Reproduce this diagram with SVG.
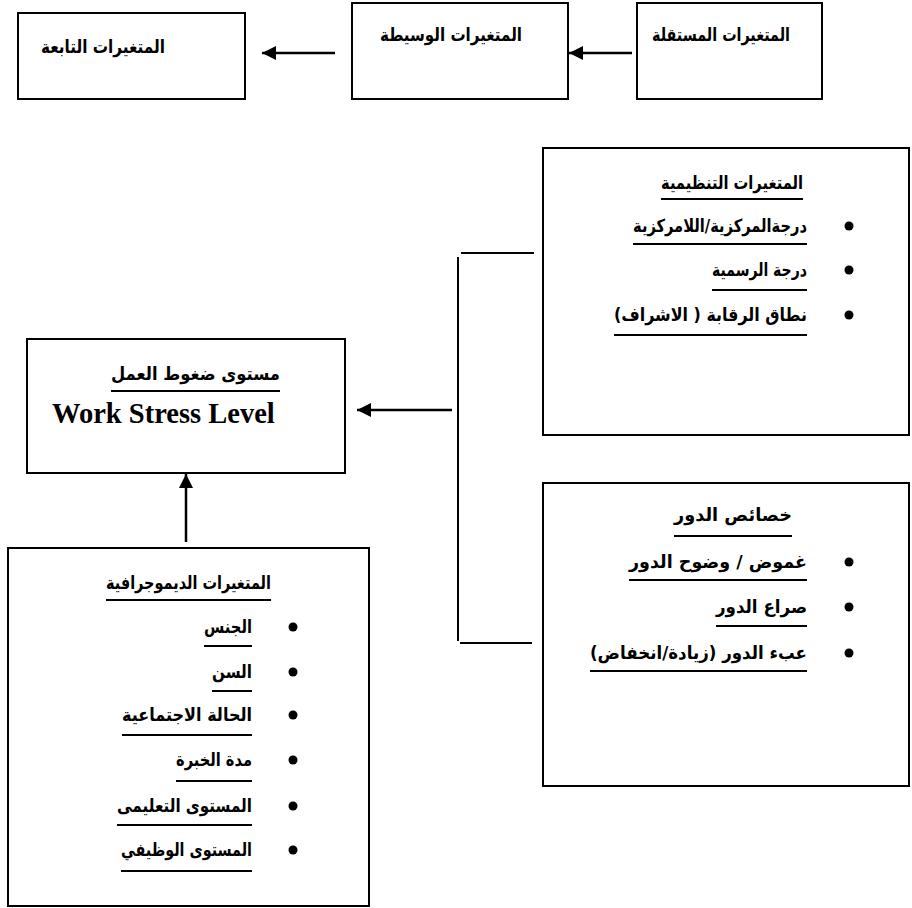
<svg xmlns="http://www.w3.org/2000/svg" width="912" height="908" viewBox="0 0 912 908">
<style>
.box{fill:#fff;stroke:#000;stroke-width:2}
.ar{font-family:"DejaVu Sans",sans-serif;font-weight:bold;font-size:18px;fill:#000;direction:rtl;unicode-bidi:embed;text-anchor:middle}
.en{font-family:"Liberation Serif",serif;font-weight:bold;font-size:28.5px;fill:#000}
.u{stroke:#000;stroke-width:2}
.ln{stroke:#000;stroke-width:2.5;fill:none}
.br{stroke:#000;stroke-width:2;fill:none}
.dot{fill:#000}
</style>
<defs>
<marker id="ah" markerUnits="userSpaceOnUse" markerWidth="15" markerHeight="15" refX="14" refY="7" orient="auto">
<path d="M0,0 L14,7 L0,14 z" fill="#000"/>
</marker>
</defs>

<g id="dependent">
<rect class="box" x="18" y="13" width="227" height="86"/>
<text class="ar" x="103" y="53" textLength="124" lengthAdjust="spacingAndGlyphs">المتغيرات التابعة</text>
</g>
<g id="mediating">
<rect class="box" x="352" y="3" width="216" height="96"/>
<text class="ar" x="451" y="41" textLength="142" lengthAdjust="spacingAndGlyphs">المتغيرات الوسيطة</text>
</g>
<g id="independent">
<rect class="box" x="637" y="3" width="185" height="96"/>
<text class="ar" x="721" y="41" textLength="138" lengthAdjust="spacingAndGlyphs">المتغيرات المستقلة</text>
</g>

<g id="organizational">
<rect class="box" x="543" y="148" width="366" height="287"/>
<text class="ar" x="732" y="189" textLength="142" lengthAdjust="spacingAndGlyphs">المتغيرات التنظيمية</text>
<line class="u" x1="661" y1="199" x2="803" y2="199"/>
<circle class="dot" cx="849" cy="226" r="4.5"/>
<text class="ar" x="720" y="232" textLength="174" lengthAdjust="spacingAndGlyphs">درجةالمركزية/اللامركزية</text>
<line class="u" x1="633" y1="244" x2="807" y2="244"/>
<circle class="dot" cx="849" cy="270" r="4.5"/>
<text class="ar" x="759.5" y="276" textLength="95" lengthAdjust="spacingAndGlyphs">درجة الرسمية</text>
<line class="u" x1="712" y1="290" x2="807" y2="290"/>
<circle class="dot" cx="849" cy="315" r="4.5"/>
<text class="ar" x="710.5" y="321" textLength="193" lengthAdjust="spacingAndGlyphs">نطاق الرقابة ( الاشراف)</text>
<line class="u" x1="614" y1="335" x2="807" y2="335"/>
</g>

<g id="role">
<rect class="box" x="543" y="483" width="366" height="303"/>
<text class="ar" x="733" y="521" textLength="118" lengthAdjust="spacingAndGlyphs">خصائص الدور</text>
<line class="u" x1="674" y1="536" x2="792" y2="536"/>
<circle class="dot" cx="849" cy="562" r="4.5"/>
<text class="ar" x="718" y="568" textLength="178" lengthAdjust="spacingAndGlyphs">غموض / وضوح الدور</text>
<line class="u" x1="629" y1="580" x2="807" y2="580"/>
<circle class="dot" cx="849" cy="607" r="4.5"/>
<text class="ar" x="761.5" y="613" textLength="91" lengthAdjust="spacingAndGlyphs">صراع الدور</text>
<line class="u" x1="716" y1="626" x2="807" y2="626"/>
<circle class="dot" cx="849" cy="653" r="4.5"/>
<text class="ar" x="698.5" y="659" textLength="217" lengthAdjust="spacingAndGlyphs">عبء الدور (زيادة/انخفاض)</text>
<line class="u" x1="590" y1="671" x2="807" y2="671"/>
</g>

<g id="stress">
<rect class="box" x="27" y="339" width="318" height="134"/>
<text class="ar" x="195.5" y="380" textLength="169" lengthAdjust="spacingAndGlyphs">مستوى ضغوط العمل</text>
<line class="u" x1="111" y1="391" x2="280" y2="391"/>
<text class="en" x="52" y="423">Work Stress Level</text>
</g>

<g id="demographic">
<rect class="box" x="8" y="548" width="361" height="358"/>
<text class="ar" x="188.5" y="589" textLength="165" lengthAdjust="spacingAndGlyphs">المتغيرات الديموجرافية</text>
<line class="u" x1="106" y1="600" x2="271" y2="600"/>
<circle class="dot" cx="293" cy="627" r="4.5"/>
<text class="ar" x="228" y="633" textLength="48" lengthAdjust="spacingAndGlyphs">الجنس</text>
<line class="u" x1="204" y1="646" x2="252" y2="646"/>
<circle class="dot" cx="293" cy="672" r="4.5"/>
<text class="ar" x="232" y="678" textLength="40" lengthAdjust="spacingAndGlyphs">السن</text>
<line class="u" x1="212" y1="691" x2="252" y2="691"/>
<circle class="dot" cx="293" cy="715" r="4.5"/>
<text class="ar" x="187" y="721" textLength="130" lengthAdjust="spacingAndGlyphs">الحالة الاجتماعية</text>
<line class="u" x1="122" y1="735" x2="252" y2="735"/>
<circle class="dot" cx="293" cy="760" r="4.5"/>
<text class="ar" x="214" y="766" textLength="76" lengthAdjust="spacingAndGlyphs">مدة الخبرة</text>
<line class="u" x1="176" y1="781" x2="252" y2="781"/>
<circle class="dot" cx="293" cy="806" r="4.5"/>
<text class="ar" x="184.5" y="812" textLength="135" lengthAdjust="spacingAndGlyphs">المستوى التعليمى</text>
<line class="u" x1="117" y1="825" x2="252" y2="825"/>
<circle class="dot" cx="293" cy="850" r="4.5"/>
<text class="ar" x="186.5" y="856" textLength="131" lengthAdjust="spacingAndGlyphs">المستوى الوظيفي</text>
<line class="u" x1="121" y1="871" x2="252" y2="871"/>
</g>

<g id="connectors">
<line class="ln" x1="632" y1="53" x2="569" y2="53" marker-end="url(#ah)"/>
<line class="ln" x1="335" y1="53" x2="262" y2="53" marker-end="url(#ah)"/>
<line class="br" x1="461" y1="253" x2="534" y2="253"/>
<line class="br" x1="458" y1="257" x2="458" y2="641"/>
<line class="br" x1="460" y1="643" x2="532" y2="643"/>
<line class="ln" x1="452" y1="410" x2="357" y2="410" marker-end="url(#ah)"/>
<line class="ln" x1="186" y1="542" x2="186" y2="474" marker-end="url(#ah)"/>
</g>
</svg>
